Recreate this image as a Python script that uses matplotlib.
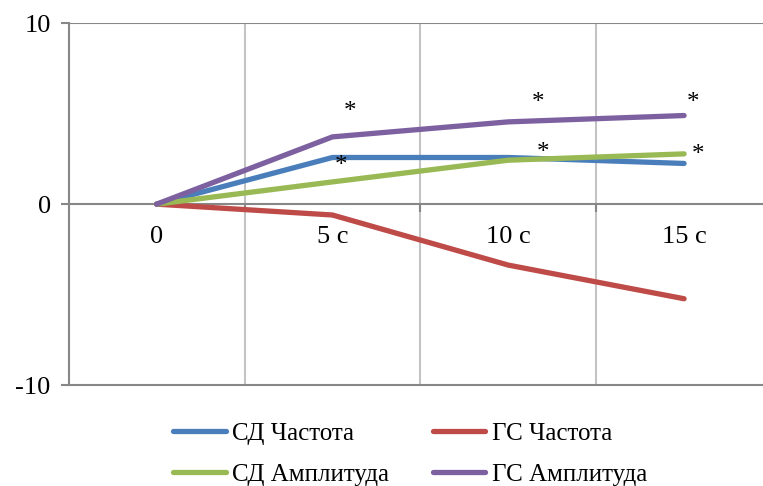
import numpy as np
import matplotlib
matplotlib.use("Agg")
import matplotlib.pyplot as plt

# categories and series
categories = ["0", "5 с", "10 с", "15 с"]
sd_freq = [0, 2.58, 2.58, 2.25]
gs_freq = [0, -0.6, -3.37, -5.23]
sd_amp = [0, 1.23, 2.43, 2.78]
gs_amp = [0, 3.72, 4.55, 4.9]

# significance marks (x in category units, y in data units)
star_x = [1.10, 1.05, 2.17, 2.20, 3.05, 3.08]
star_y = [5.08, 2.10, 5.58, 2.82, 5.58, 2.71]

plt.rcParams['font.family'] = ['Liberation Serif', 'DejaVu Serif']
plt.rcParams['axes.unicode_minus'] = False

W, H = 763, 486
fig = plt.figure(figsize=(W / 100, H / 100), dpi=100)
left, right, top, bottom = 68.7, 772, 23.3, 385
ax = fig.add_axes([left / W, 1 - bottom / H, (right - left) / W, (bottom - top) / H])

x = np.arange(len(categories))
ax.set_xlim(-0.5, len(categories) - 0.5)
ax.set_ylim(-10, 10)

axis_grey = '#878787'
grid_grey = '#c3c3c3'

# vertical gridlines at category boundaries
bounds = np.arange(0.5, len(categories) - 0.5, 1)
for b in bounds:
    ax.axvline(b, color=grid_grey, lw=1.5, zorder=1)
ax.axhline(10, color=axis_grey, lw=1.5, zorder=1)
ax.axhline(0, color=axis_grey, lw=1.5, zorder=2)
ax.vlines(bounds, -0.45, 0, color=axis_grey, lw=1.5, zorder=2)

for s in ['top', 'right']:
    ax.spines[s].set_visible(False)
ax.spines['left'].set_color(axis_grey)
ax.spines['left'].set_linewidth(1.5)
ax.spines['bottom'].set_color(axis_grey)
ax.spines['bottom'].set_linewidth(1.5)

ax.set_xticks([])
ax.set_yticks([-10, 0, 10])
ax.tick_params(axis='y', length=6, width=1.5, color=axis_grey, pad=7, labelsize=19)

series = [
    (sd_freq, '#4a7ebb', 'СД Частота'),
    (gs_freq, '#be4b48', 'ГС Частота'),
    (sd_amp, '#98b954', 'СД Амплитуда'),
    (gs_amp, '#7d60a0', 'ГС Амплитуда'),
]
lines = []
for vals, col, lab in series:
    ln, = ax.plot(x, vals, color=col, lw=3.8, solid_capstyle='round',
                  solid_joinstyle='round', label=lab, zorder=3)
    lines.append(ln)

for i, lab in enumerate(categories):
    ax.annotate(lab, (i, 0), xytext=(0, -24), textcoords='offset points',
                ha='center', va='center', fontsize=19)

for sx, sy in zip(star_x, star_y):
    ax.text(sx, sy, '*', ha='center', va='center', fontsize=18, zorder=4)

# legend fills column-wise, so order the handles to get rows as in the picture
order = [0, 2, 1, 3]
fig.legend(handles=[lines[i] for i in order], ncol=2, loc='center',
           bbox_to_anchor=(410 / W, 1 - 454 / H), frameon=False,
           fontsize=18, handlelength=2.1, handletextpad=0.25,
           columnspacing=1.75, labelspacing=0.75)

fig.savefig('out.png', dpi=100)
